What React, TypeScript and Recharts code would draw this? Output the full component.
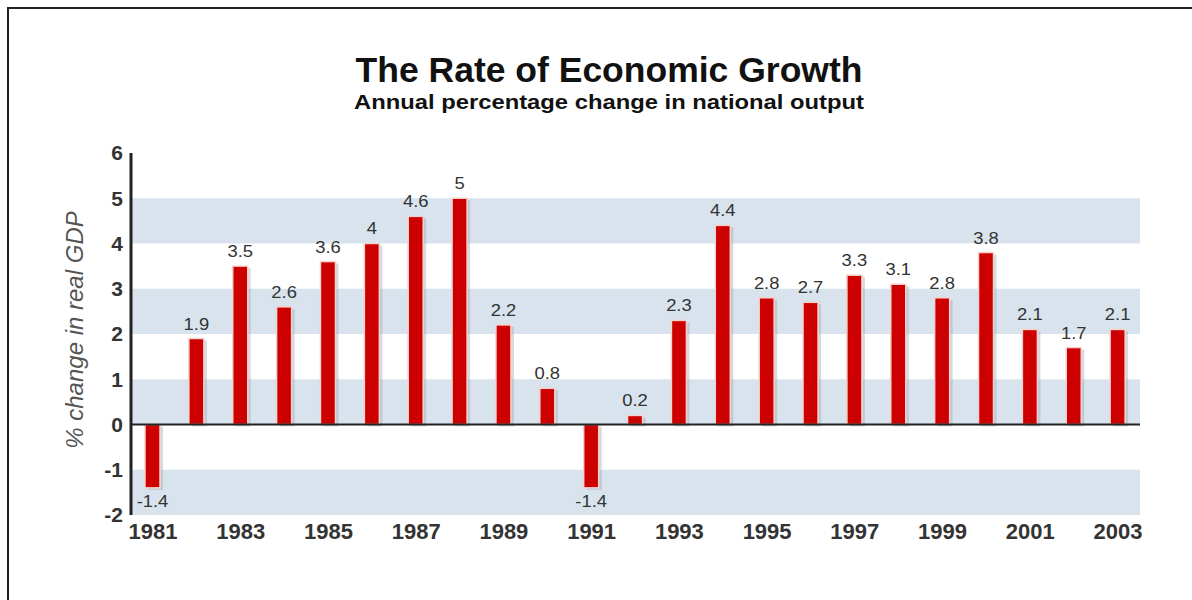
import { BarChart, Bar, XAxis, YAxis, ReferenceArea, ReferenceLine, LabelList } from "recharts"

const years = [
  "1981", "1982", "1983", "1984", "1985", "1986", "1987", "1988", "1989", "1990", "1991", "1992",
  "1993", "1994", "1995", "1996", "1997", "1998", "1999", "2000", "2001", "2002", "2003",
]
const growth = [-1.4, 1.9, 3.5, 2.6, 3.6, 4, 4.6, 5, 2.2, 0.8, -1.4, 0.2, 2.3, 4.4, 2.8, 2.7, 3.3, 3.1, 2.8, 3.8, 2.1, 1.7, 2.1]
const yTicks = [-2, -1, 0, 1, 2, 3, 4, 5, 6]
const bands: [number, number][] = [[4, 5], [2, 3], [0, 1], [-2, -1]]

const data = years.map((year, i) => ({ year, value: growth[i] }))

const FONT = '"Liberation Sans", Arial, sans-serif'

// red bar with a pale outline and a soft grey shadow on the right
const ShadowBar = (props: any) => {
  const { x, y, width, height } = props
  const top = Math.min(y, y + height)
  const h = Math.abs(height)
  return (
    <g>
      <rect x={x + 3} y={top + 2} width={width} height={h} fill="#9aa3ad" opacity={0.4} />
      <rect x={x} y={top} width={width} height={h} fill="#cc0000" stroke="#f6d2cc" strokeWidth={1.5} />
    </g>
  )
}

const ValueLabel = (props: any) => {
  const { x, y, width, height, value } = props
  const top = Math.min(y, y + height)
  const bottom = Math.max(y, y + height)
  const neg = value < 0
  const ty = neg ? bottom + 19 : top - 9
  const cx = x + width / 2
  return (
    <text
      x={cx}
      y={ty}
      textAnchor="middle"
      fontSize={16}
      fill="#333"
      fontFamily={FONT}
      transform={`translate(${cx} 0) scale(1.15 1) translate(${-cx} 0)`}
    >
      {value}
    </text>
  )
}

export default function App() {
  return (
    <div style={{ position: "relative", width: 1192, height: 600, overflow: "hidden", background: "#fff", fontFamily: FONT }}>
      <style>{`body{margin:0}`}</style>
      <div style={{ position: "absolute", left: 7, top: 7, width: 1185, height: 2, background: "#222" }} />
      <div style={{ position: "absolute", left: 7, top: 7, width: 2, height: 593, background: "#222" }} />
      <div style={{ position: "absolute", left: 0, top: 53, width: 1218, textAlign: "center", fontSize: 35.5, lineHeight: "35px", fontWeight: "bold", color: "#111" }}>
        The Rate of Economic Growth
      </div>
      <div style={{ position: "absolute", left: 0, top: 92, width: 1218, textAlign: "center", fontSize: 20.5, lineHeight: "20px", fontWeight: "bold", color: "#111", transform: "scaleX(1.16)", transformOrigin: "609px 0" }}>
        Annual percentage change in national output
      </div>
      <div style={{ position: "absolute", left: 0, top: 0 }}>
        <BarChart width={1192} height={600} data={data} margin={{ top: 153, right: 52, bottom: 55, left: 0 }} barSize={15}>
          {bands.map(([a, b]) => (
            <ReferenceArea key={a} y1={a} y2={b} fill="#d8e3ee" fillOpacity={1} stroke="none" ifOverflow="extendDomain" />
          ))}
          <XAxis
            dataKey="year"
            interval={1}
            tickLine={false}
            axisLine={false}
            height={30}
            tick={{ fontSize: 22, fontWeight: "bold", fill: "#333", fontFamily: FONT }}
          />
          <YAxis
            width={131}
            domain={[-2, 6]}
            ticks={yTicks}
            tickLine={false}
            axisLine={{ stroke: "#222", strokeWidth: 3 }}
            tick={{ fontSize: 21, fontWeight: "bold", fill: "#333", fontFamily: FONT }}
            label={{
              value: "% change in real GDP",
              angle: -90,
              position: "insideLeft",
              offset: 0,
              dx: 74,
              dy: -4,
              style: { fontSize: 24, fontStyle: "italic", fill: "#555", fontFamily: FONT, textAnchor: "middle" },
            }}
          />
          <Bar dataKey="value" shape={ShadowBar} isAnimationActive={false}>
            <LabelList dataKey="value" content={ValueLabel} />
          </Bar>
          <ReferenceLine y={0} stroke="#222" strokeWidth={2} />
        </BarChart>
      </div>
    </div>
  )
}
